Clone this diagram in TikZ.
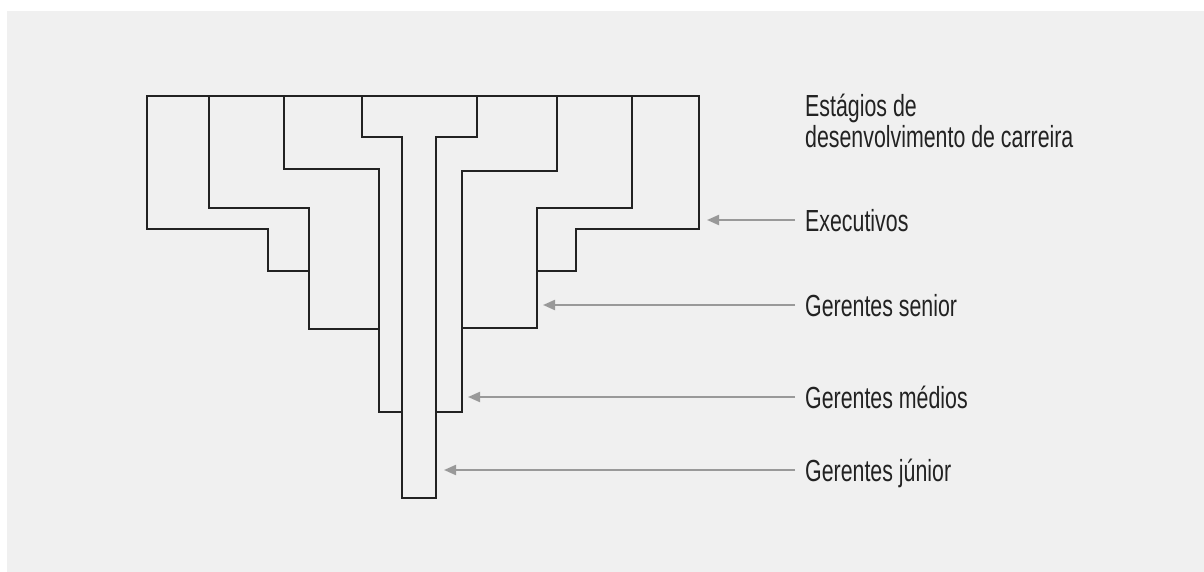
\documentclass[tikz,border=0pt]{standalone}
\usepackage{fontspec}
\setmainfont{Liberation Sans}[FakeStretch=0.70]
\usetikzlibrary{arrows.meta}
\definecolor{bgc}{HTML}{F0F0F0}
\definecolor{ink}{HTML}{222222}
\definecolor{arrowc}{HTML}{999999}
\begin{document}
\begin{tikzpicture}[x=1pt,y=-1pt,
  stage/.style={draw=ink, line width=2.8pt, line join=miter},
  lbl/.style={anchor=west, inner sep=0pt, text=ink, font=\fontsize{30.5}{31}\selectfont, text height=22pt, text depth=0pt},
  ttl/.style={anchor=base west, inner sep=0pt, text=ink, align=left, font=\fontsize{30.5}{31}\selectfont},
  pointer/.style={draw=arrowc, line width=2pt, -{Triangle[length=12pt,width=10pt]}, shorten <=10pt}
]
\useasboundingbox (0,0) rectangle (1204,572);
\fill[bgc] (7,11) rectangle (1204,572);

% outer stage (executivos)
\draw[stage] (309,271) -- (268,271) -- (268,229) -- (147,229) -- (147,96) -- (699,96) -- (699,229) -- (576,229) -- (576,271) -- (537,271);
% second stage (gerentes senior)
\draw[stage] (209,96) -- (209,208) -- (309,208) -- (309,329) -- (379,329);
\draw[stage] (632,96) -- (632,208) -- (537,208) -- (537,328) -- (462,328);
% third stage (gerentes medios)
\draw[stage] (284,96) -- (284,169) -- (379,169) -- (379,412) -- (402,412);
\draw[stage] (557,96) -- (557,171) -- (462,171) -- (462,412) -- (436,412);
% inner stage (gerentes junior)
\draw[stage] (362,96) -- (362,137) -- (402,137) -- (402,498) -- (436,498) -- (436,137) -- (477,137) -- (477,96);

\node[ttl] (title) at (805,148) {Estágios de\\desenvolvimento de carreira};
\node[lbl] (lexec) at (805,220) {Executivos};
\node[lbl] (lsen) at (805,305) {Gerentes senior};
\node[lbl] (lmed) at (805,397) {Gerentes médios};
\node[lbl] (ljun) at (805,470) {Gerentes júnior};

\coordinate (texec) at (707,220);
\coordinate (tsen) at (543,305);
\coordinate (tmed) at (468,397);
\coordinate (tjun) at (444,470);

\draw[pointer] (lexec.west) -- (texec);
\draw[pointer] (lsen.west) -- (tsen);
\draw[pointer] (lmed.west) -- (tmed);
\draw[pointer] (ljun.west) -- (tjun);
\end{tikzpicture}
\end{document}
